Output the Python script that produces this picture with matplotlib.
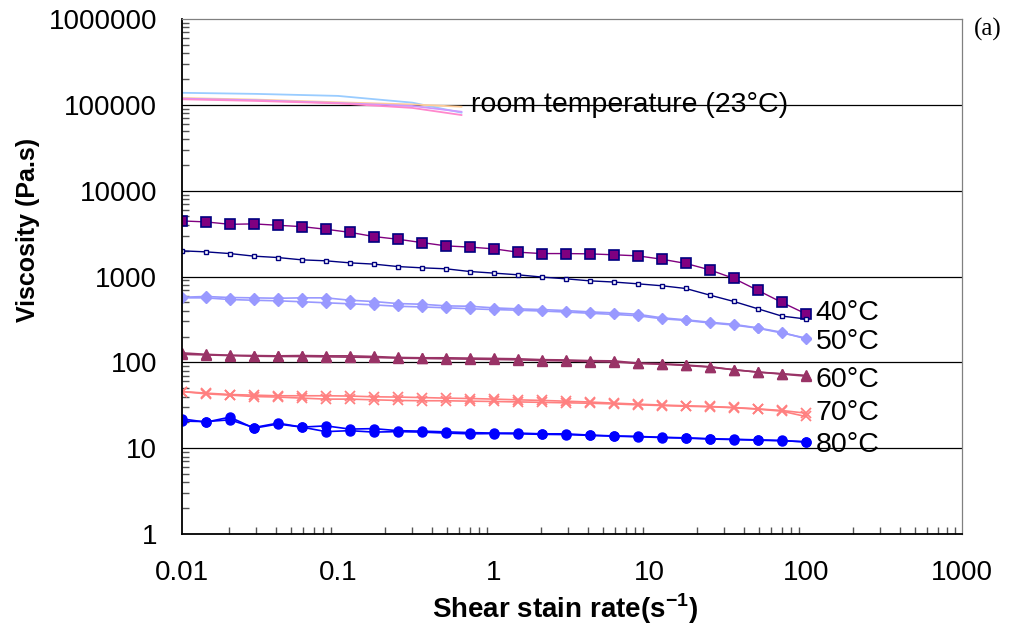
from matplotlib import pyplot as plt
from matplotlib.ticker import LogLocator, FixedLocator, FixedFormatter, NullFormatter

plt.rcParams['font.family'] = ['Liberation Sans', 'DejaVu Sans']

# shear rate grid used by the rheometer (s^-1)
rate = [0.01, 0.01425, 0.02031, 0.02894, 0.04125, 0.05878, 0.08377, 0.1194, 0.1701,
        0.2424, 0.3455, 0.4924, 0.7017, 1.0, 1.425, 2.031, 2.894, 4.125, 5.878,
        8.377, 11.94, 17.01, 24.24, 34.55, 49.24, 70.17, 100.0]

# room temperature runs (no markers, shorter range)
rt_rate = [0.01, 0.03, 0.1, 0.3, 0.62]
rt_blue = [138000, 134000, 127000, 106000, 81000]
rt_orange = [120000, 115000, 107000, 101000, 95000]
rt_purple = [118000, 113000, 105000, 97000, 83000]
rt_pink = [116000, 111000, 104000, 92000, 76000]

v40_a = [4440, 4325, 4055, 4100, 3950, 3810, 3550, 3270, 2920, 2716, 2485, 2274, 2200,
         2100, 1920, 1850, 1850, 1835, 1790, 1740, 1590, 1420, 1195, 950, 690, 500, 368]
v40_b = [1990, 1937, 1850, 1726, 1663, 1563, 1523, 1442, 1394, 1306, 1262, 1230, 1143,
         1095, 1047, 985, 940, 890, 862, 822, 780, 725, 607, 512, 421, 346, 320]

v50_a = [573, 585, 569, 564, 558, 564, 564, 529, 511, 484, 475, 455, 450,
         431, 420, 412, 401, 387, 377, 363, 330, 313, 293, 277, 252, 224, 188]
v50_b = [564, 564, 539, 529, 521, 508, 494, 481, 467, 450, 442, 432, 421,
         412, 405, 396, 386, 373, 362, 349, 322, 308, 288, 272, 250, 220, 192]

v60_a = [129, 124, 121, 120, 119, 120, 119, 119, 117, 114, 113, 113, 112,
         111, 110, 107.5, 106.6, 104.7, 104, 98, 96.6, 93, 89, 82, 77, 73.8, 70.5]
v60_b = [124, 122, 120, 118, 117, 117, 116, 115, 114, 112, 111, 110, 109,
         108, 107, 105, 104, 102, 101, 97, 95, 92, 88, 82, 77, 73, 69]

v70_a = [45.7, 43.8, 42.2, 41.5, 40.8, 40.8, 40.8, 40.5, 39.7, 39.4, 38.9, 38.3, 37.9,
         37.3, 36.6, 36.0, 35.3, 34.5, 33.5, 32.6, 31.8, 31.2, 30.6, 29.8, 28.7, 27.5, 25.6]
v70_b = [45.7, 43.0, 41.5, 40.0, 39.4, 38.3, 37.3, 37.3, 36.6, 36.0, 35.7, 35.7, 35.3,
         35.0, 34.6, 34.2, 33.8, 33.4, 32.8, 32.0, 31.4, 30.8, 30.4, 29.6, 28.5, 27.0, 23.4]

v80_a = [20.7, 20.4, 21.4, 17.4, 19.6, 17.6, 18.2, 16.7, 16.9, 16.0, 15.8, 15.5, 15.2,
         15.0, 15.0, 14.7, 14.7, 14.2, 13.9, 13.7, 13.4, 13.2, 12.9, 12.7, 12.5, 12.3, 11.8]
v80_b = [22.0, 20.1, 23.0, 17.1, 19.1, 17.6, 15.6, 16.0, 15.4, 15.6, 15.4, 15.0, 14.7,
         14.8, 14.7, 14.5, 14.4, 14.1, 13.8, 13.6, 13.3, 13.1, 12.8, 12.6, 12.4, 12.2, 11.9]

y_ticks = [1, 10, 100, 1000, 10000, 100000, 1000000]
y_labels = ['1', '10', '100', '1000', '10000', '100000', '1000000']
x_ticks = [0.01, 0.1, 1, 10, 100, 1000]
x_labels = ['0.01', '0.1', '1', '10', '100', '1000']
grid_levels = [10, 100, 1000, 10000, 100000]

series_labels = ['40°C', '50°C', '60°C', '70°C', '80°C']
label_y = [378, 174, 63, 26, 11.0]


fig = plt.figure(figsize=(10.22, 6.32), dpi=100)
ax = fig.add_axes([0.178, 0.155, 0.763, 0.815])
ax.set_xscale('log')
ax.set_yscale('log')
ax.set_xlim(0.01, 1000)
ax.set_ylim(1, 1000000)

for g in grid_levels:
    ax.axhline(g, color='black', lw=0.9, zorder=1)

# room temperature
ax.plot(rt_rate, rt_blue, color='#99ccff', lw=1.3)
ax.plot(rt_rate, rt_orange, color='#ffcc99', lw=1.3)
ax.plot(rt_rate, rt_purple, color='#cc99ff', lw=1.3)
ax.plot(rt_rate, rt_pink, color='#ff88cc', lw=1.3)

ax.plot(rate, v40_a, color='#800080', lw=1.0, marker='s', ms=6.5,
        mfc='#800080', mec='#000080', mew=1.2)
ax.plot(rate, v40_b, color='#000080', lw=1.0, marker='s', ms=3.5,
        mfc='white', mec='#000080', mew=1.0)

ax.plot(rate, v50_a, color='#9999ff', lw=1.2, marker='D', ms=5.5, mfc='#9999ff', mec='#9999ff')
ax.plot(rate, v50_b, color='#9999ff', lw=1.2, marker='D', ms=5.5, mfc='#9999ff', mec='#9999ff')

ax.plot(rate, v60_a, color='#993366', lw=1.2, marker='^', ms=7, mfc='#993366', mec='#993366')
ax.plot(rate, v60_b, color='#993366', lw=1.2, marker='^', ms=7, mfc='#993366', mec='#993366')

ax.plot(rate, v70_a, color='#ff8080', lw=1.2, marker='x', ms=7, mew=1.3)
ax.plot(rate, v70_b, color='#ff8080', lw=1.2, marker='x', ms=7, mew=1.3)

ax.plot(rate, v80_a, color='#0000ff', lw=1.2, marker='o', ms=6.5)
ax.plot(rate, v80_b, color='#0000ff', lw=1.2, marker='o', ms=6.5)

for lab, yv in zip(series_labels, label_y):
    ax.text(116, yv, lab, fontsize=20.5, va='center', ha='left')
ax.text(0.71, 100000, 'room temperature (23°C)', fontsize=20.5, va='center', ha='left')

ax.text(1.015, 0.98, '(a)', transform=ax.transAxes, fontsize=18,
        family=['Liberation Serif', 'DejaVu Serif'], va='center', ha='left')

for side in ['top', 'right']:
    ax.spines[side].set_color('#808080')
    ax.spines[side].set_linewidth(0.9)
ax.spines['left'].set_linewidth(1.3)
ax.spines['bottom'].set_linewidth(1.3)

ax.yaxis.set_major_locator(FixedLocator(y_ticks))
ax.yaxis.set_major_formatter(FixedFormatter(y_labels))
ax.yaxis.set_minor_locator(LogLocator(base=10, subs=range(2, 10), numticks=20))
ax.yaxis.set_minor_formatter(NullFormatter())
ax.xaxis.set_major_locator(FixedLocator(x_ticks))
ax.xaxis.set_major_formatter(FixedFormatter(x_labels))
ax.xaxis.set_minor_locator(LogLocator(base=10, subs=range(2, 10), numticks=20))
ax.xaxis.set_minor_formatter(NullFormatter())

ax.tick_params(axis='both', which='both', direction='in', color='#555555')
ax.tick_params(axis='both', which='major', length=0, labelsize=20)
ax.tick_params(axis='y', which='major', pad=18)
ax.tick_params(axis='x', which='major', pad=19)
ax.tick_params(axis='both', which='minor', length=5, width=1.0)

fig.text(28 / 1022, 1 - 230 / 632, 'Viscosity (Pa.s)', fontsize=18, fontweight='bold',
         rotation=90, ha='center', va='center')
fig.text(565 / 1022, 1 - 609 / 632, 'Shear stain rate(s$^{\\mathregular{-1}}$)', fontsize=20,
         fontweight='bold', ha='center', va='center')

fig.savefig('out.png', dpi=100)
